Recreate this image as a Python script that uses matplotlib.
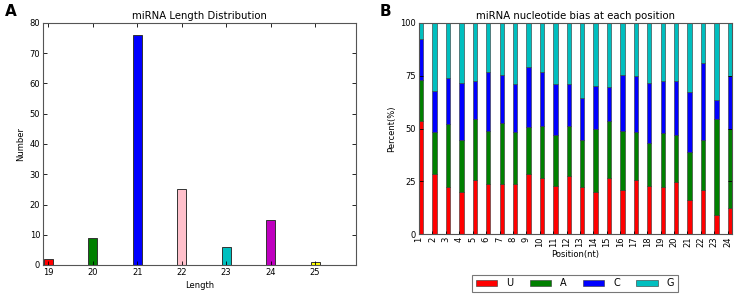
import matplotlib
matplotlib.use("Agg")
import matplotlib.pyplot as plt
import numpy as np

# Panel A data
lengths = [19, 20, 21, 22, 23, 24, 25]
counts = [2, 9, 76, 25, 6, 15, 1]
len_colors = ["red", "green", "blue", "pink", "c", "m", "yellow"]

# Panel B data
positions = list(range(1, 25))
pct_U = [53.6, 28.2, 22.2, 19.9, 25.4, 23.6, 23.6, 23.6, 28.2, 26.6, 22.6, 27.4,
         22.2, 19.9, 26.6, 20.9, 25.5, 22.6, 22.2, 24.8, 16.0, 21.0, 8.9, 12.3]
cum_A = [72.9, 48.4, 52.1, 44.5, 54.4, 49.0, 52.8, 48.4, 50.5, 51.3, 46.7, 51.1,
         44.5, 49.8, 53.6, 49.0, 48.3, 43.0, 47.8, 46.7, 38.8, 44.5, 54.4, 49.8]
cum_C = [92.2, 67.9, 74.0, 71.8, 72.6, 77.0, 75.5, 71.2, 79.1, 76.9, 71.0, 71.0,
         64.4, 70.3, 69.8, 75.5, 74.7, 71.7, 72.5, 72.6, 67.4, 81.2, 63.6, 75.0]
pct_A = [a - u for a, u in zip(cum_A, pct_U)]
pct_C = [c - a for c, a in zip(cum_C, cum_A)]
pct_G = [100 - c for c in cum_C]
nuc_labels = ["U", "A", "C", "G"]
nuc_colors = ["red", "green", "blue", "c"]

W, H = 737, 299
fig = plt.figure(figsize=(W / 100, H / 100), dpi=100)

def style(ax):
    ax.tick_params(direction="in", top=True, right=True, labelsize=6, length=3, width=0.6, pad=2)
    for s in ax.spines.values():
        s.set_color("#555555")
        s.set_linewidth(0.8)

# Panel A
axA = fig.add_axes([43 / W, 1 - 265 / H, (356 - 43) / W, (265 - 23) / H])
axA.bar(lengths, counts, width=0.2, color=len_colors, edgecolor="#333333", linewidth=0.7)
axA.set_xlim(18.88, 25.92)
axA.set_ylim(0, 80)
axA.set_xticks(lengths)
axA.set_yticks(range(0, 81, 10))
axA.set_title("miRNA Length Distribution", fontsize=7.3, pad=3)
axA.set_xlabel("Length", fontsize=6, labelpad=3)
axA.set_ylabel("Number", fontsize=6, labelpad=3)
style(axA)
fig.text(5 / W, 1 - 12 / H, "A", fontsize=11, fontweight="bold", va="center", ha="left")

# Panel B
axB = fig.add_axes([419 / W, 1 - 234 / H, (732 - 419) / W, (234 - 23) / H])
bw = 0.32
bottom = np.zeros(len(positions))
handles = []
for vals, lab, col in zip([pct_U, pct_A, pct_C, pct_G], nuc_labels, nuc_colors):
    h = axB.bar(positions, vals, width=bw, bottom=bottom, align="edge", color=col,
                edgecolor="#333333", linewidth=0.4, label=lab)
    handles.append(h)
    bottom = bottom + np.array(vals)
axB.set_xlim(1, 24 + bw)
axB.set_ylim(0, 100)
axB.set_xticks(positions)
axB.set_xticklabels([str(p) for p in positions], rotation=90)
axB.set_yticks([0, 25, 50, 75, 100])
axB.set_title("miRNA nucleotide bias at each position", fontsize=7.3, pad=3)
axB.set_xlabel("Position(nt)", fontsize=6, labelpad=2)
axB.set_ylabel("Percent(%)", fontsize=6, labelpad=3)
style(axB)
axB.tick_params(axis="x", top=False, length=2)
fig.text(380 / W, 1 - 12 / H, "B", fontsize=11, fontweight="bold", va="center", ha="left")

leg = fig.legend(handles=handles, labels=nuc_labels, ncol=4, loc="center",
                 bbox_to_anchor=(575 / W, 1 - 283.5 / H), fontsize=7, frameon=True,
                 fancybox=False, edgecolor="#555555", handlelength=2.2, handleheight=0.6,
                 handletextpad=0.9, columnspacing=1.7, borderpad=0.4)
leg.get_frame().set_linewidth(0.8)

fig.savefig("out.png", dpi=100)
